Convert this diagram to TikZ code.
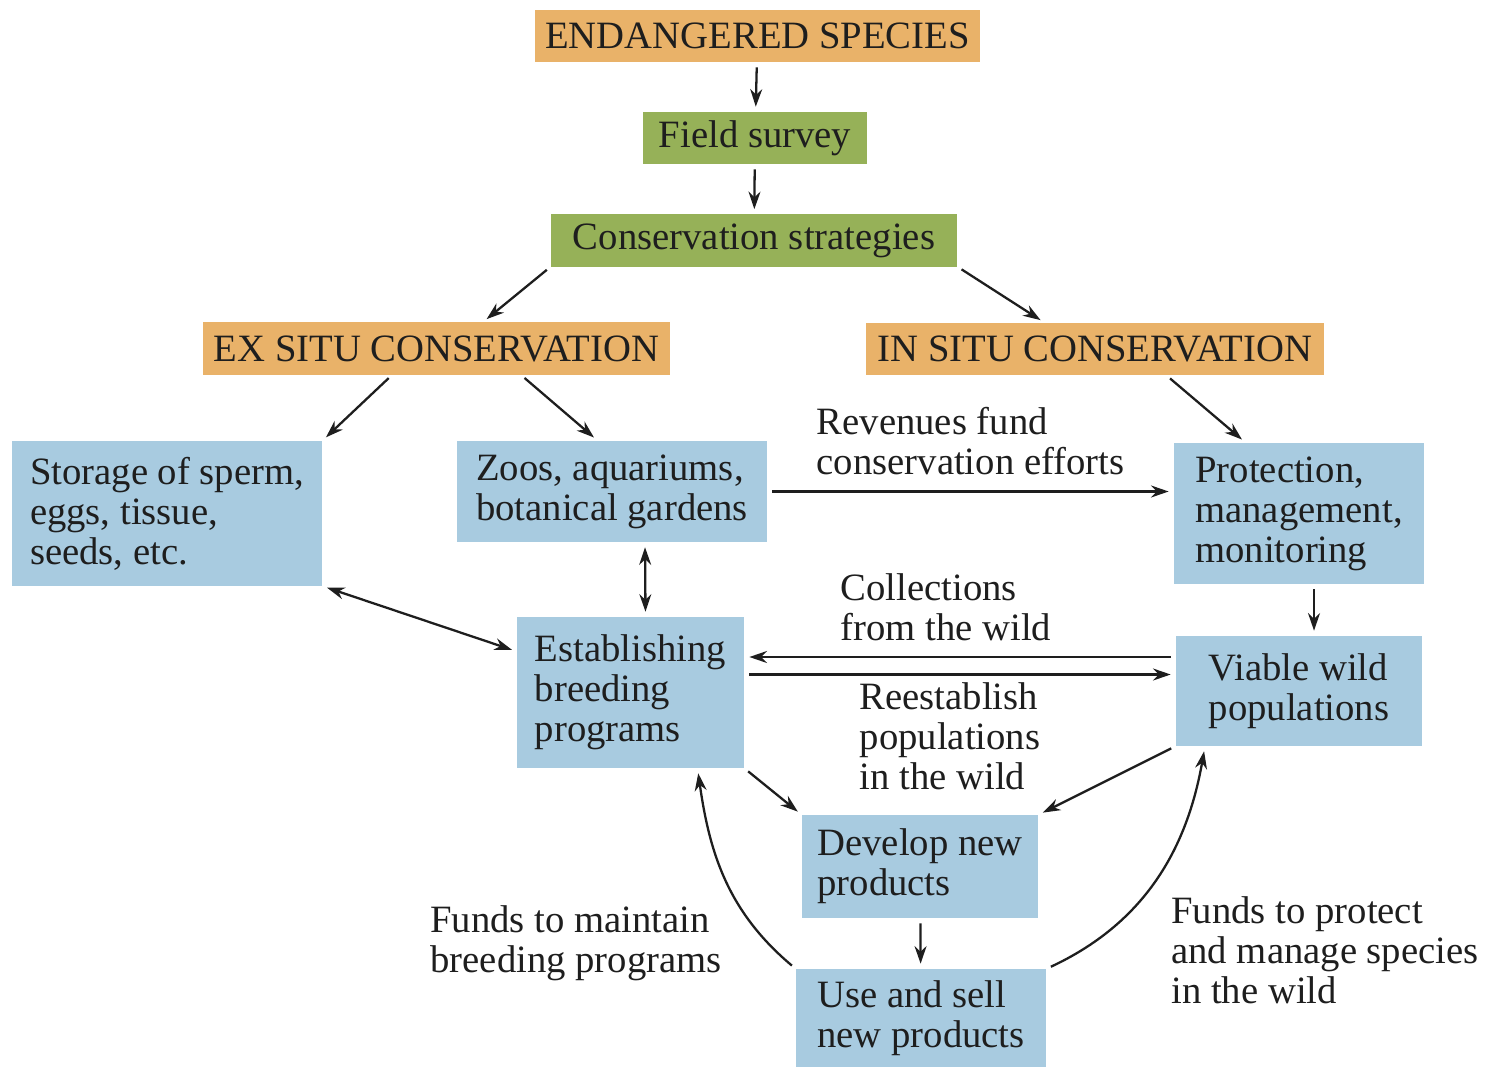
\documentclass[tikz,border=0pt]{standalone}
\usepackage{fontspec}
\setmainfont{Liberation Serif}
\usetikzlibrary{arrows.meta,calc}

\definecolor{boxorange}{RGB}{233,178,105}
\definecolor{boxgreen}{RGB}{150,177,88}
\definecolor{boxblue}{RGB}{168,203,224}
\definecolor{ink}{RGB}{30,30,30}

\begin{document}
\begin{tikzpicture}[x=0.01cm,y=-0.01cm,
    font=\fontsize{11}{11.4}\selectfont, text=ink,
    hbox/.style={inner sep=0pt,outer sep=0pt,minimum height=0.52cm},
    orangebox/.style={hbox,fill=boxorange},
    greenbox/.style={hbox,fill=boxgreen},
    bluebox/.style={inner sep=0pt,outer sep=0pt,fill=boxblue,align=left},
    lbl/.style={align=left,inner sep=2pt},
    arr/.style={-{Stealth[length=5pt,width=3.4pt]},line width=0.65pt,draw=ink,
                shorten >=1.5pt,shorten <=1.5pt},
    dbl/.style={{Stealth[length=5pt,width=3.4pt]}-{Stealth[length=5pt,width=3.4pt]},
                line width=0.65pt,draw=ink,shorten >=1.5pt,shorten <=1.5pt}]
\useasboundingbox (0,0) rectangle (1495,1067);

% top of the chart
\node[orangebox,minimum width=4.45cm] (es) at (757.5,36) {ENDANGERED SPECIES};
\node[greenbox,minimum width=2.24cm] (fs) at (755,138) {Field survey};
\node[greenbox,minimum width=4.06cm] (cs) at (754,240.5) {Conservation strategies};
\node[orangebox,minimum width=4.67cm] (exsitu) at (436.5,348.5) {EX SITU CONSERVATION};
\node[orangebox,minimum width=4.58cm] (insitu) at (1095,349) {IN SITU CONSERVATION};

% blue boxes
\node[bluebox,minimum width=3.10cm,minimum height=1.45cm] (storage) at (167,513.5)
    {Storage of sperm,\\eggs, tissue,\\seeds, etc.};
\node[bluebox,minimum width=3.10cm,minimum height=1.01cm] (zoos) at (612,491.5)
    {Zoos, aquariums,\\botanical gardens};
\node[bluebox,minimum width=2.50cm,minimum height=1.41cm] (protect) at (1299,513.5)
    {Protection,\\management,\\monitoring};
\node[bluebox,minimum width=2.27cm,minimum height=1.51cm] (breed) at (630.5,692.5)
    {Establishing\\breeding\\programs};
\node[bluebox,minimum width=2.46cm,minimum height=1.10cm] (viable) at (1299,691)
    {Viable wild\\populations};
\node[bluebox,minimum width=2.36cm,minimum height=1.03cm] (develop) at (920,866.5)
    {Develop new\\products};
\node[bluebox,minimum width=2.50cm,minimum height=0.98cm] (usesell) at (921,1018)
    {Use and sell\\new products};

% arrows
\draw[arr] (es) -- (fs);
\draw[arr] (fs) -- (cs);
\draw[arr] (cs.south west) -- ($(exsitu.north)+(46,0)$);
\draw[arr] (cs.south east) -- ($(insitu.north)+(-50,0)$);
\draw[arr] ($(exsitu.south)+(-44,0)$) -- (storage.north east);
\draw[arr] ($(exsitu.south)+(84,0)$) -- ($(zoos.north)+(-14,0)$);
\draw[arr] ($(insitu.south)+(71,0)$) -- ($(protect.north)+(-53,0)$);
\draw[arr] (zoos.east) -- (zoos.east -| protect.west)
    node[lbl,midway,above,yshift=0.08cm] (revenue) {Revenues fund\\conservation efforts};
\draw[dbl] ($(zoos.south)+(33,0)$) -- ($(breed.north)+(15,0)$);
\draw[dbl] (storage.south east) -- ($(breed.west)+(0,-41)$);
\draw[arr] ($(protect.south)+(15,0)$) -- ($(viable.north)+(15,0)$);

\coordinate (collect) at ($(viable.west)+(0,-34)$);
\coordinate (reest) at ($(breed.east)+(0,-18)$);
\draw[arr] (collect) -- (collect -| breed.east)
    node[lbl,midway,above,xshift=-0.14cm,yshift=0.08cm] (colltxt) {Collections\\from the wild};
\draw[arr] (reest) -- (reest -| viable.west)
    node[lbl,midway,below,xshift=-0.1cm] (reesttxt) {Reestablish\\populations\\in the wild};

\draw[arr] (breed.south east) -- (develop.north west);
\draw[arr] (viable.south west) -- (develop.north east);
\draw[arr] (develop) -- (usesell);

\draw[arr] (usesell.north west) to[out=140,in=-82] ($(breed.south)+(67,0)$);
\draw[arr] (usesell.north east) to[out=25,in=-100] ($(viable.south)+(-94,0)$);

\node[lbl] (fundbreed) at (576,943) {Funds to maintain\\breeding programs};
\node[lbl] (fundwild) at (1325,950) {Funds to protect\\and manage species\\in the wild};
\end{tikzpicture}
\end{document}
